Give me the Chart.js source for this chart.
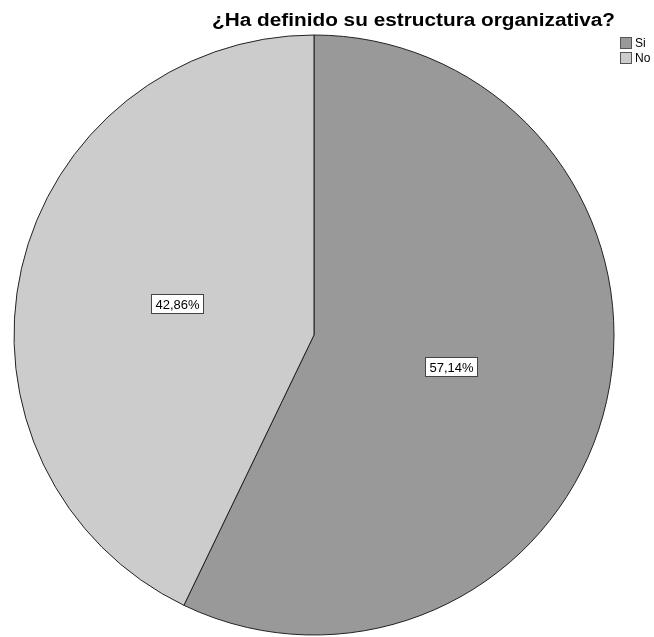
<!DOCTYPE html>
<html>
<head>
<meta charset="utf-8">
<title>¿Ha definido su estructura organizativa?</title>
<script src="https://cdn.jsdelivr.net/npm/chart.js@4/dist/chart.umd.min.js"></script>
<style>
  html, body { margin: 0; padding: 0; background: #fff; }
  #wrap { position: relative; width: 654px; height: 637px; }
</style>
</head>
<body>
<div id="wrap"><canvas id="pieChart" width="654" height="637"></canvas></div>
<script>
// respuestas y porcentajes
var categorias = ['Si', 'No'];
var porcentajes = [57.14, 42.86];
var colores = ['#999999', '#cccccc'];
var titulo = '¿Ha definido su estructura organizativa?';

var FUENTE = '"Liberation Sans", Arial, sans-serif';

function formatoPct(v) {
    return v.toFixed(2).replace('.', ',') + '%';
}

// etiquetas con caja blanca dentro de cada sector
var etiquetasPlugin = {
    id: 'etiquetas',
    afterDatasetsDraw: function (chart) {
        var ctx = chart.ctx;
        var meta = chart.getDatasetMeta(0);
        ctx.save();
        ctx.font = '13px ' + FUENTE;
        ctx.textBaseline = 'middle';
        ctx.textAlign = 'center';
        meta.data.forEach(function (arc, i) {
            var p = arc.getProps(['x', 'y', 'startAngle', 'endAngle', 'outerRadius'], true);
            var mid = (p.startAngle + p.endAngle) / 2;
            var r = p.outerRadius * 0.47;
            var cx = p.x + Math.cos(mid) * r;
            var cy = p.y + Math.sin(mid) * r;
            var txt = formatoPct(porcentajes[i]);
            var w = Math.round(ctx.measureText(txt).width + 8);
            var h = 19;
            var x0 = Math.round(cx - w / 2) + 0.5;
            var y0 = Math.round(cy - h / 2) + 0.5;
            ctx.fillStyle = '#ffffff';
            ctx.fillRect(x0, y0, w, h);
            ctx.strokeStyle = '#444444';
            ctx.lineWidth = 1;
            ctx.strokeRect(x0, y0, w, h);
            ctx.fillStyle = '#000000';
            ctx.fillText(txt, x0 + w / 2, y0 + h / 2 + 1);
        });
        ctx.restore();
    }
};

// titulo y leyenda arriba a la derecha
var encabezadoPlugin = {
    id: 'encabezado',
    afterDraw: function (chart) {
        var ctx = chart.ctx;
        ctx.save();
        ctx.fillStyle = '#000000';
        ctx.font = 'bold 18px ' + FUENTE;
        ctx.textAlign = 'left';
        ctx.textBaseline = 'alphabetic';
        // el titulo ocupa de x=212 a x=615
        var ancho = ctx.measureText(titulo).width;
        ctx.save();
        ctx.translate(212, 26);
        ctx.scale(403 / ancho, 1);
        ctx.fillText(titulo, 0, 0);
        ctx.restore();

        ctx.font = '12px ' + FUENTE;
        ctx.textAlign = 'left';
        ctx.textBaseline = 'middle';
        categorias.forEach(function (c, i) {
            var y = 37 + i * 15;
            ctx.fillStyle = colores[i];
            ctx.fillRect(620.5, y + 0.5, 11, 11);
            ctx.strokeStyle = '#555555';
            ctx.lineWidth = 1;
            ctx.strokeRect(620.5, y + 0.5, 11, 11);
            ctx.fillStyle = '#000000';
            ctx.fillText(c, 635, y + 7);
        });
        ctx.restore();
    }
};

var ctx = document.getElementById('pieChart').getContext('2d');
var PieChart = new Chart(ctx, {
    type: 'pie',
    data: {
        labels: categorias,
        datasets: [{
            data: porcentajes,
            backgroundColor: colores,
            borderColor: '#222222',
            borderWidth: 1
        }]
    },
    options: {
        responsive: false,
        animation: false,
        layout: {
            padding: { left: 13.5, right: 39.5, top: 34.5, bottom: 1.5 }
        },
        plugins: {
            legend: { display: false },
            title: { display: false },
            tooltip: { enabled: false }
        }
    },
    plugins: [etiquetasPlugin, encabezadoPlugin]
});
</script>
</body>
</html>
